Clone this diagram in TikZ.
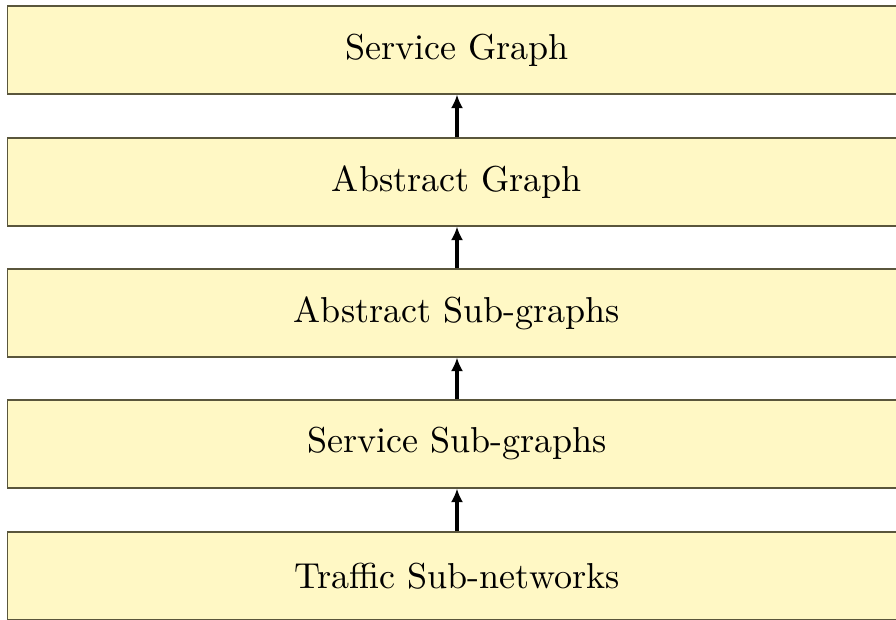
\documentclass[tikz,border=0pt]{standalone}
\usetikzlibrary{arrows.meta}
\definecolor{layerfill}{RGB}{255,248,197}
\definecolor{layerline}{RGB}{90,86,60}
\newdimen\pxu \pxu=0.294pt
\tikzset{
  layer/.style={draw=layerline, line width=0.35pt, fill=layerfill,
    minimum width=899\pxu, minimum height=88\pxu, inner sep=0pt,
    font=\fontsize{10.6}{13}\selectfont},
  uparrow/.style={-{Latex[length=4pt,width=3.6pt]}, line width=1.2pt, black},
}
\begin{document}
\begin{tikzpicture}[x=0.294pt, y=-0.294pt]
  \useasboundingbox (0,0) rectangle (896,620);
  \node[layer] (sg)  at (457,50)  {Service Graph};
  \node[layer] (ag)  at (457,182) {Abstract Graph};
  \node[layer] (asg) at (457,313) {Abstract Sub-graphs};
  \node[layer] (ssg) at (457,444) {Service Sub-graphs};
  \node[layer] (tsn) at (457,576) {Traffic Sub-networks};
  \draw[uparrow] (tsn.north) -- (ssg.south);
  \draw[uparrow] (ssg.north) -- (asg.south);
  \draw[uparrow] (asg.north) -- (ag.south);
  \draw[uparrow] (ag.north) -- (sg.south);
\end{tikzpicture}
\end{document}
